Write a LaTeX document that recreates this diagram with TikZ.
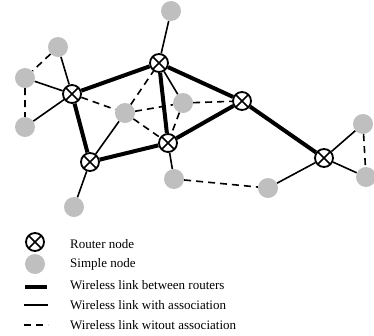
\documentclass[tikz,border=0pt]{standalone}
\usepackage{fontspec}
\setmainfont{Liberation Serif}
\usetikzlibrary{backgrounds}
\begin{document}
\begin{tikzpicture}[x=1pt, y=-1pt,
	router/.style={circle, draw, line width=1.8pt, fill=white, minimum size=18pt, inner sep=0pt,
		path picture={\draw[line width=1.5pt] (path picture bounding box.north west) -- (path picture bounding box.south east)
			(path picture bounding box.north east) -- (path picture bounding box.south west);}},
	simple/.style={circle, fill=black!25, minimum size=20pt, inner sep=0pt},
	rlink/.style={line width=4pt},
	alink/.style={line width=1.6pt},
	nlink/.style={line width=1.6pt, dash pattern=on 7pt off 5pt},
	legtext/.style={anchor=west, font=\fontsize{13}{15}\selectfont, inner sep=0pt}]
	\useasboundingbox (0,0) rectangle (374,335);
	% routers
	\node[router] (r1) at (72,94)   {};
	\node[router] (r2) at (159,63)  {};
	\node[router] (r3) at (90,162)  {};
	\node[router] (r4) at (168,143) {};
	\node[router] (r5) at (242,101) {};
	\node[router] (r6) at (324,158) {};
	% simple nodes
	\node[simple] (s1)  at (58,47)   {};
	\node[simple] (s2)  at (25,78)   {};
	\node[simple] (s3)  at (25,127)  {};
	\node[simple] (s4)  at (171,11)  {};
	\node[simple] (s5)  at (125,113) {};
	\node[simple] (s6)  at (183,103) {};
	\node[simple] (s7)  at (74,207)  {};
	\node[simple] (s8)  at (174,179) {};
	\node[simple] (s9)  at (268,188) {};
	\node[simple] (s10) at (363,124) {};
	\node[simple] (s11) at (366,177) {};
	% links
	\begin{scope}[on background layer]
		\draw[rlink] (r1) -- (r2)  (r1) -- (r3)  (r3) -- (r4)  (r2) -- (r4)
		             (r2) -- (r5)  (r4) -- (r5)  (r5) -- (r6);
		\draw[alink] (s1) -- (r1)  (s2) -- (r1)  (s3) -- (r1)  (s4) -- (r2)
		             (r2) -- (s6)  (s5) -- (r3)  (s7) -- (r3)  (s8) -- (r4)
		             (s9) -- (r6)  (s10) -- (r6) (s11) -- (r6);
		\draw[nlink] (s1) -- (s2)  (s2) -- (s3)  (r1) -- (s5)  (s5) -- (r2)
		             (s5) -- (s6)  (s5) -- (r4)  (s6) -- (r4)  (s6) -- (r5)
		             (s8) -- (s9)  (s10) -- (s11);
	\end{scope}
	% legend
	\node[router] (lr) at (35,242) {};
	\node[simple] (ls) at (35,264) {};
	\draw[rlink] (25,287) -- (47,287);
	\draw[alink] (24,305) -- (48,305);
	\draw[nlink] (24,325) -- (48,325);
	\node[legtext] (t1) at (70,244) {Router node};
	\node[legtext] (t2) at (70,264) {Simple node};
	\node[legtext] (t3) at (70,285) {Wireless link between routers};
	\node[legtext] (t4) at (70,305) {Wireless link with association};
	\node[legtext] (t5) at (70,325) {Wireless link witout association};
\end{tikzpicture}
\end{document}
